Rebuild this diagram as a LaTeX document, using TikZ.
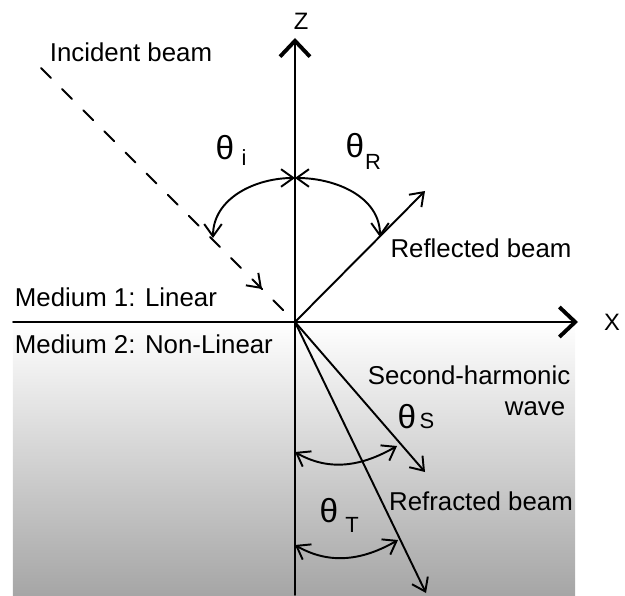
\documentclass[tikz,border=0pt]{standalone}
\usepackage{fontspec}
\setmainfont{Liberation Sans}
\usetikzlibrary{arrows.meta}
\usetikzlibrary{decorations.markings}

\begin{document}
\begin{tikzpicture}[
    x=0.02cm, y=0.02cm,
    line width=1.1pt,
    line cap=round,
    axisline/.style={
        -{Straight Barb[length=9pt,width=17pt,line width=2.2pt]}
    },
    beamline/.style={
        -{Straight Barb[length=7pt,width=10pt]}
    },
    anglearc/.style={
        {Straight Barb[length=7pt,width=10pt]}-{Straight Barb[length=7pt,width=10pt]}
    },
    incidentline/.style={
        dash pattern=on 8pt off 9pt,
        postaction={decorate},
        decoration={markings,
            mark=at position 0.87 with {\arrow{Straight Barb[length=7pt,width=10pt]}}}
    },
    textlabel/.style={inner sep=0pt, font=\fontsize{14.7}{17}\selectfont},
    thetalabel/.style={inner sep=0pt, font=\fontsize{19}{22}\selectfont},
    sublabel/.style={inner sep=0pt, font=\fontsize{12.5}{14}\selectfont},
    axislabel/.style={inner sep=0pt, font=\fontsize{13.5}{16}\selectfont}
]

    \useasboundingbox (-295,-273) rectangle (330,322);

    \coordinate (O) at (0,0);
    \coordinate (Zbot) at (0,-273);
    \coordinate (Ztop) at (0,284);
    \coordinate (Xleft) at (-282,0);
    \coordinate (Xright) at (283,0);
    \coordinate (Inc) at (-254,254);
    \coordinate (Refl) at (130,131);
    \coordinate (SH) at (130,-150);
    \coordinate (Refr) at (131,-271);
    % arc end points
    \coordinate (Ztheta) at (0,144);
    \coordinate (Itheta) at (-82,84);
    \coordinate (Rtheta) at (85,85);
    \coordinate (Zs) at (0,-130);
    \coordinate (Stheta) at (102,-124);
    \coordinate (Zt) at (0,-223);
    \coordinate (Ttheta) at (103,-218);

    % Medium 2
    \shade[top color=white, bottom color=black!35] (Xleft) rectangle (280,-273);

    \draw[axisline] (Zbot) -- (Ztop);
    \draw[axisline] (Xleft) -- (Xright);

    \draw[incidentline] (Inc) -- (O);
    \draw[beamline] (O) -- (Refl);
    \draw[beamline] (O) -- (SH);
    \draw[beamline] (O) -- (Refr);

    \draw[anglearc] (Ztheta) to[out=180, in=90] (Itheta);
    \draw[anglearc] (Ztheta) to[out=0, in=90] (Rtheta);
    \draw[anglearc] (Zs) to[out=-30, in=-150] (Stheta);
    \draw[anglearc] (Zt) to[out=-30, in=-150] (Ttheta);

    \node[textlabel] (incident) at (-164,270) {Incident beam};
    \node[textlabel] (reflected) at (186,74) {Reflected beam};
    \node[textlabel, anchor=west] (medium1) at (-281,25) {Medium 1: Linear};
    \node[textlabel, anchor=west] (medium2) at (-281,-22) {Medium 2: Non-Linear};
    \node[textlabel] (second) at (174,-53) {Second-harmonic};
    \node[textlabel] (wave) at (240,-87) {wave};
    \node[textlabel] (refracted) at (186,-179) {Refracted beam};
    \node[axislabel] (zlabel) at (6,301) {Z};
    \node[axislabel] (xlabel) at (317,0) {X};

    \node[thetalabel] (thI) at (-70,174) {θ};
    \node[sublabel] (subI) at (-51,164) {i};
    \node[thetalabel] (thR) at (60,176) {θ};
    \node[sublabel] (subR) at (78,160) {R};
    \node[thetalabel] (thS) at (112,-95) {θ};
    \node[sublabel] (subS) at (132,-99) {S};
    \node[thetalabel] (thT) at (34,-189) {θ};
    \node[sublabel] (subT) at (57,-203) {T};

\end{tikzpicture}
\end{document}
